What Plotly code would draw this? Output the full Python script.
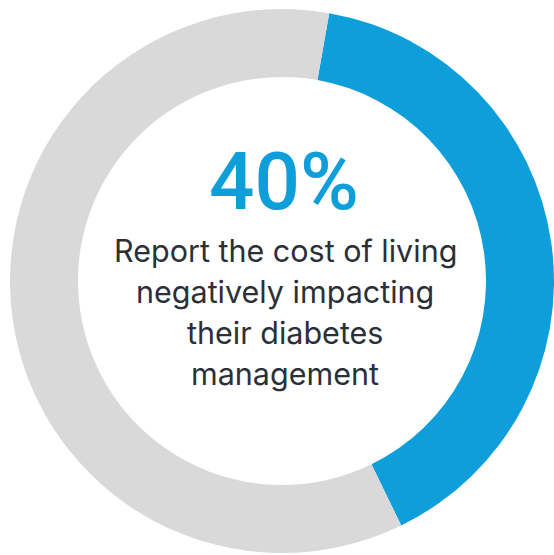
import plotly.graph_objects as go

# Share of respondents
labels = ["Negatively impacted", "Other"]
values = [40, 60]
colors = ["#0E9FDA", "#D9D9D9"]

headline = "40%"
caption_lines = [
    "Report the cost of living",
    "negatively impacting",
    "their diabetes",
    "management",
]

W, H = 554, 555

fig = go.Figure(
    go.Pie(
        labels=labels,
        values=values,
        hole=0.75,
        sort=False,
        direction="clockwise",
        rotation=10,
        marker=dict(colors=colors, line=dict(width=0)),
        textinfo="none",
        hoverinfo="skip",
        showlegend=False,
        domain=dict(x=[10 / W, 1.0], y=[1 / H, 547 / H]),
    )
)

fig.add_annotation(
    text=headline,
    x=284 / W, y=1 - 182 / H, xref="paper", yref="paper",
    xanchor="center", yanchor="middle", showarrow=False,
    font=dict(family="Roboto", size=80, color="#0E9FDA", weight=500),
)

line_centers = [250, 291, 332, 373]
for txt, yc in zip(caption_lines, line_centers):
    fig.add_annotation(
        text=txt,
        x=285 / W, y=1 - yc / H, xref="paper", yref="paper",
        xanchor="center", yanchor="middle", showarrow=False,
        font=dict(family="Inter", size=30.5, color="#2B3038"),
    )

fig.update_layout(
    width=W, height=H,
    margin=dict(l=0, r=0, t=0, b=0),
    paper_bgcolor="white",
    plot_bgcolor="white",
)

fig.write_html("out.html")
